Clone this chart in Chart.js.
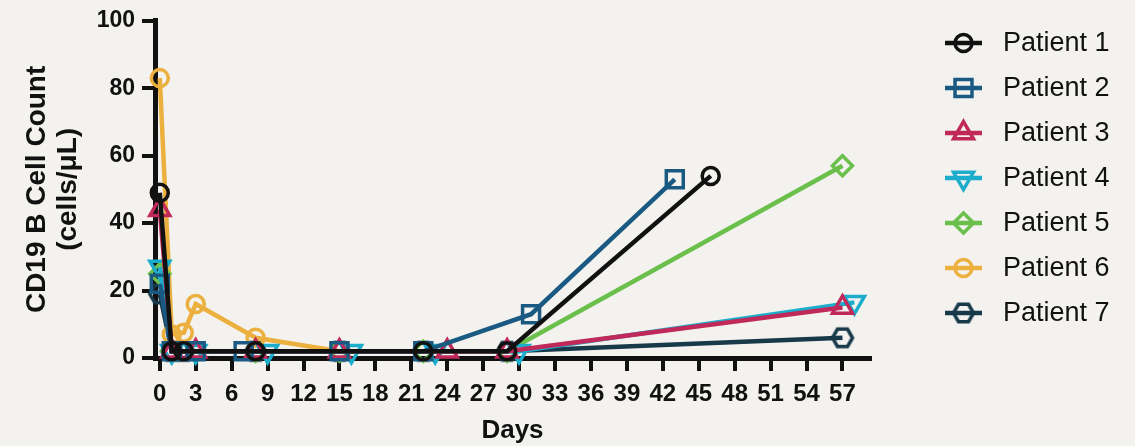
<!DOCTYPE html>
<html><head><meta charset="utf-8">
<script src="https://cdn.jsdelivr.net/npm/chart.js@4.4.0/dist/chart.umd.min.js"></script>
<style>html,body{margin:0;padding:0;background:#f3f2ee;overflow:hidden}#wrap{width:1135px;height:446px;position:relative}</style>
</head><body><div id="wrap"><canvas id="c" width="1135" height="446"></canvas></div>
<script>
// ---- data ----
const xTicks = [0,3,6,9,12,15,18,21,24,27,30,33,36,39,42,45,48,51,54,57];
const yTicks = [0,20,40,60,80,100];
const patientNames = ['Patient 1','Patient 2','Patient 3','Patient 4','Patient 5','Patient 6','Patient 7'];
const p1Days = [0,1,2,8,22,29,46];
const p1Values = [49,2,2,2,2,2,54];
const p2Days = [0,1,3,7,15,22,31,43];
const p2Values = [22,2,2,2,2,2,13,53];
const p3Days = [0,1,3,8,15,24,29,57];
const p3Values = [44,2,2,2,2,2,2,15];
const p4Days = [0,1,3,9,16,23,30,58];
const p4Values = [27,2,2,2,2,2,2,16.5];
const p5Days = [0,1,3,8,15,22,29,57];
const p5Values = [25,2,2,2,2,2,2,57];
const p6Days = [0,1,2,3,8,15];
const p6Values = [83,7,7.5,16,6,2];
const p7Days = [0,1,2,8,15,22,29,57];
const p7Values = [19,2,2,2,2,2,2,6];

const colors = ['#111111','#1a5a82','#c0295a','#1badcb','#6bbf4b','#ecb03e','#17394a'];
const FONT = "'Liberation Sans', Arial, Helvetica, sans-serif";

function makeHex(color){
  const c = document.createElement('canvas');
  c.width = 28; c.height = 28;
  const g = c.getContext('2d');
  g.strokeStyle = color; g.lineWidth = 3.5;
  g.beginPath();
  for (let k=0;k<6;k++){
    const a = k*Math.PI/3;
    const px = 14 + 10*Math.cos(a), py = 14 + 10*Math.sin(a);
    if(k===0) g.moveTo(px,py); else g.lineTo(px,py);
  }
  g.closePath(); g.stroke();
  return c;
}
const hexImg = makeHex(colors[6]);

const styles = [
  {pointStyle:'circle', radius:8.5, rotation:0},
  {pointStyle:'rect', radius:12, rotation:0},
  {pointStyle:'triangle', radius:11.5, rotation:0},
  {pointStyle:'triangle', radius:11.5, rotation:180},
  {pointStyle:'rectRot', radius:10, rotation:0},
  {pointStyle:'circle', radius:8.5, rotation:0},
  {pointStyle:hexImg, radius:10, rotation:0}
];

const allDays = [p1Days,p2Days,p3Days,p4Days,p5Days,p6Days,p7Days];
const allValues = [p1Values,p2Values,p3Values,p4Values,p5Values,p6Values,p7Values];

const datasets = patientNames.map((name,i)=>({
  label: name,
  data: allDays[i].map((d,j)=>({x:d, y:allValues[i][j]})),
  borderColor: colors[i],
  backgroundColor: 'rgba(0,0,0,0)',
  pointBorderColor: colors[i],
  pointBackgroundColor: 'rgba(0,0,0,0)',
  borderWidth: 4.5,
  pointBorderWidth: 3.5,
  pointRadius: styles[i].radius,
  pointHoverRadius: styles[i].radius,
  pointStyle: styles[i].pointStyle,
  pointRotation: styles[i].rotation,
  tension: 0,
  clip: false
}));

function drawMarker(ctx, i, x, y){
  const s = styles[i];
  const r = s.radius;
  ctx.save();
  ctx.strokeStyle = colors[i];
  ctx.lineWidth = 3.5;
  ctx.beginPath();
  if (s.pointStyle === 'circle') {
    ctx.arc(x,y,r,0,Math.PI*2);
  } else if (s.pointStyle === 'rect') {
    const h = r*Math.SQRT1_2;
    ctx.rect(x-h,y-h,2*h,2*h);
  } else if (s.pointStyle === 'triangle') {
    const sign = s.rotation===180 ? -1 : 1;
    for (let k=0;k<3;k++){
      const a = k*2*Math.PI/3;
      const px = x + Math.sin(a)*r*sign, py = y - Math.cos(a)*r*sign;
      if(k===0) ctx.moveTo(px,py); else ctx.lineTo(px,py);
    }
    ctx.closePath();
  } else if (s.pointStyle === 'rectRot') {
    ctx.moveTo(x,y-r); ctx.lineTo(x+r,y); ctx.lineTo(x,y+r); ctx.lineTo(x-r,y); ctx.closePath();
  } else {
    ctx.restore();
    ctx.drawImage(s.pointStyle, x - s.pointStyle.width/2, y - s.pointStyle.height/2);
    return;
  }
  ctx.stroke();
  ctx.restore();
}

const legendPlugin = {
  id:'prismLegend',
  afterDraw(chart){
    const ctx = chart.ctx;
    ctx.save();
    patientNames.forEach((name,i)=>{
      const y = 43 + i*45;
      ctx.strokeStyle = colors[i];
      ctx.lineWidth = 4.5;
      ctx.beginPath(); ctx.moveTo(945,y); ctx.lineTo(982,y); ctx.stroke();
      drawMarker(ctx,i,963.5,y);
      ctx.fillStyle = '#111111';
      ctx.font = "27px " + FONT;
      ctx.textBaseline = 'middle';
      ctx.textAlign = 'left';
      ctx.fillText(name, 1003, y+1);
    });
    ctx.restore();
  }
};

new Chart(document.getElementById('c'), {
  type:'line',
  data:{datasets},
  options:{
    responsive:false,
    animation:false,
    devicePixelRatio:1,
    layout:{padding:{left:0, top:20, right:265, bottom:0}},
    plugins:{legend:{display:false}, tooltip:{enabled:false}},
    scales:{
      x:{
        type:'linear', min:-0.4, max:59.3,
        afterBuildTicks(scale){ scale.ticks = xTicks.map(v=>({value:v})); },
        afterFit(scale){ scale.height = 88; },
        grid:{drawOnChartArea:false, drawTicks:true, tickLength:13, tickWidth:4, tickColor:'#111', color:'#111', lineWidth:4},
        border:{display:true, color:'#111', width:5},
        ticks:{autoSkip:false, maxRotation:0, padding:9, color:'#111', font:{family:FONT, size:24, weight:'bold'}, callback:(v)=>String(v)},
        title:{display:true, text:'Days', color:'#111', padding:{top:0,bottom:0}, font:{family:FONT, size:26, weight:'bold', lineHeight:1.2}}
      },
      y:{
        type:'linear', min:0, max:100,
        afterBuildTicks(scale){ scale.ticks = yTicks.map(v=>({value:v})); },
        afterFit(scale){ scale.width = 155; },
        grid:{drawOnChartArea:false, drawTicks:true, tickLength:13, tickWidth:4, tickColor:'#111', color:'#111', lineWidth:4},
        border:{display:true, color:'#111', width:5},
        ticks:{padding:7, color:'#111', font:{family:FONT, size:23, weight:'bold'}, callback:(v)=>String(v)},
        title:{display:true, text:['CD19 B Cell Count','(cells/μL)'], color:'#111', padding:{top:22,bottom:0}, font:{family:FONT, size:28, weight:'bold', lineHeight:1.1}}
      }
    }
  },
  plugins:[legendPlugin]
});
</script></body></html>
